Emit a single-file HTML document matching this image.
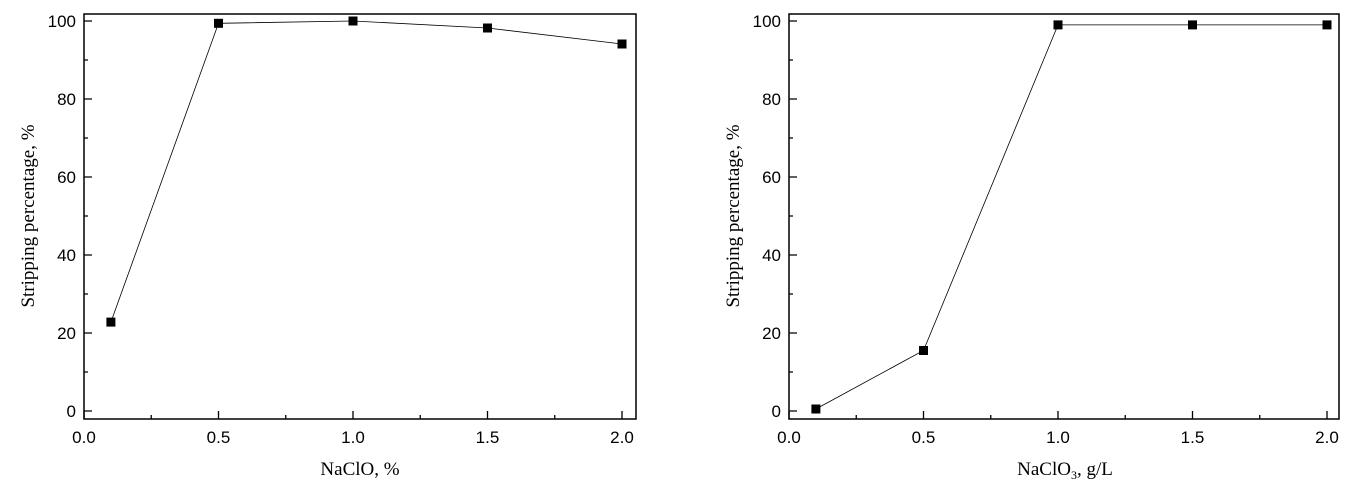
<!DOCTYPE html>
<html><head><meta charset="utf-8"><style>body{margin:0;background:#fff}</style></head><body>
<svg width="1351" height="498" xmlns="http://www.w3.org/2000/svg" font-family="Liberation Sans, sans-serif">
<g stroke="#000" stroke-width="1.3" fill="none">
<rect x="84" y="14" width="552" height="405" stroke-width="1.5"/>
<path d="M84 419v-8M151.25 419v-4M218.5 419v-8M285.75 419v-4M353 419v-8M420.25 419v-4M487.5 419v-8M554.75 419v-4M622 419v-8"/>
<path d="M84 411h8M84 372h4M84 333h8M84 294h4M84 255h8M84 216h4M84 177h8M84 138h4M84 99h8M84 60h4M84 21h8"/>
<polyline stroke-width="0.8" points="110.9,322.1 218.5,23.3 353,21 487.5,28 622,44"/>
<rect x="789" y="14" width="550" height="405" stroke-width="1.5"/>
<path d="M789 419v-8M856.25 419v-4M923.5 419v-8M990.75 419v-4M1058 419v-8M1125.25 419v-4M1192.5 419v-8M1259.75 419v-4M1327 419v-8"/>
<path d="M789 411h8M789 372h4M789 333h8M789 294h4M789 255h8M789 216h4M789 177h8M789 138h4M789 99h8M789 60h4M789 21h8"/>
<polyline stroke-width="0.8" points="815.9,409 923.5,350.5 1058,24.9 1192.5,24.9 1327,24.9"/>
</g>
<g fill="#000">
<rect x="106.4" y="317.6" width="9" height="9"/><rect x="214" y="18.8" width="9" height="9"/><rect x="348.5" y="16.5" width="9" height="9"/><rect x="483" y="23.5" width="9" height="9"/><rect x="617.5" y="39.5" width="9" height="9"/>
<rect x="811.4" y="404.5" width="9" height="9"/><rect x="919" y="346" width="9" height="9"/><rect x="1053.5" y="20.4" width="9" height="9"/><rect x="1188" y="20.4" width="9" height="9"/><rect x="1322.5" y="20.4" width="9" height="9"/>
</g>
<g font-size="17" text-anchor="middle">
<text x="84" y="443">0.0</text><text x="218.5" y="443">0.5</text><text x="353" y="443">1.0</text><text x="487.5" y="443">1.5</text><text x="622" y="443">2.0</text>
<text x="789" y="443">0.0</text><text x="923.5" y="443">0.5</text><text x="1058" y="443">1.0</text><text x="1192.5" y="443">1.5</text><text x="1327" y="443">2.0</text>
</g>
<g font-size="17" text-anchor="end">
<text x="76" y="417">0</text><text x="76" y="339">20</text><text x="76" y="261">40</text><text x="76" y="183">60</text><text x="76" y="105">80</text><text x="76" y="27">100</text>
<text x="781" y="417">0</text><text x="781" y="339">20</text><text x="781" y="261">40</text><text x="781" y="183">60</text><text x="781" y="105">80</text><text x="781" y="27">100</text>
</g>
<g font-family="Liberation Serif, serif" font-size="19" text-anchor="middle">
<text x="34" y="216" transform="rotate(-90 34 216)">Stripping percentage, %</text>
<text x="739" y="216" transform="rotate(-90 739 216)">Stripping percentage, %</text>
<text x="360" y="475">NaClO, %</text>
<text x="1065" y="475">NaClO<tspan font-size="12" dy="4">3</tspan><tspan dy="-4">, g/L</tspan></text>
</g>
</svg>
</body></html>
